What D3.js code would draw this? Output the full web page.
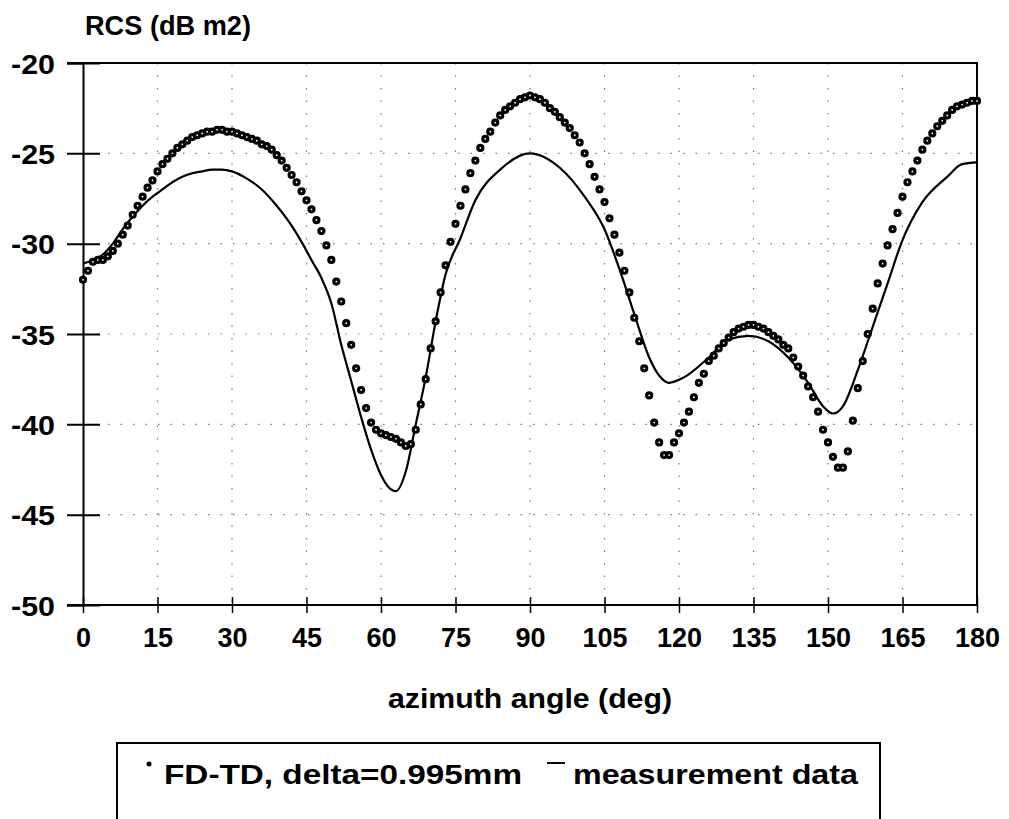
<!DOCTYPE html>
<html>
<head>
<meta charset="utf-8">
<script src="https://cdn.jsdelivr.net/npm/d3@7"></script>
<style>
  body { margin: 0; background: #fff; }
  svg text { font-family: "Liberation Sans", Arial, sans-serif; font-weight: bold; fill: #000; }
</style>
</head>
<body>
<div id="chart"></div>
<script>
// FD-TD computed RCS, one value per degree from 0 to 180
var fdAngles = d3.range(0, 181);
var fdValues = [
  -32.0, -31.5, -31.0, -30.9, -30.9, -30.7, -30.4, -30.0, -29.5, -29.0,
  -28.4, -27.9, -27.4, -26.9, -26.5, -26.0, -25.6, -25.3, -25.0, -24.7,
  -24.5, -24.3, -24.1, -24.0, -23.9, -23.8, -23.8, -23.7, -23.7, -23.8,
  -23.8, -23.9, -24.0, -24.1, -24.2, -24.3, -24.5, -24.6, -24.8, -25.1,
  -25.4, -25.8, -26.2, -26.6, -27.1, -27.6, -28.1, -28.7, -29.3, -30.1,
  -30.9, -32.1, -33.2, -34.4, -35.6, -36.9, -38.1, -39.1, -39.9, -40.3,
  -40.5, -40.6, -40.7, -40.8, -41.0, -41.2, -41.1, -40.3, -38.9, -37.5,
  -35.8, -34.3, -32.7, -31.2, -29.9, -28.9, -27.9, -27.0, -26.1, -25.4,
  -24.7, -24.2, -23.8, -23.3, -22.9, -22.6, -22.4, -22.2, -22.0, -21.9,
  -21.8, -21.9, -22.0, -22.2, -22.5, -22.7, -23.0, -23.3, -23.6, -24.0,
  -24.4, -25.0, -25.6, -26.3, -27.0, -27.7, -28.6, -29.5, -30.5, -31.5,
  -32.7, -34.1, -35.4, -36.9, -38.4, -39.9, -41.0, -41.7, -41.7, -41.0,
  -40.5, -39.9, -39.3, -38.5, -37.7, -37.2, -36.5, -36.2, -35.8, -35.5,
  -35.2, -34.9, -34.7, -34.6, -34.5, -34.5, -34.6, -34.7, -34.9, -35.1,
  -35.3, -35.6, -35.8, -36.3, -36.8, -37.3, -37.9, -38.5, -39.3, -40.3,
  -41.0, -41.8, -42.4, -42.4, -41.5, -39.8, -38.0, -36.5, -35.0, -33.6,
  -32.2, -31.1, -30.1, -29.2, -28.3, -27.4, -26.6, -26.0, -25.4, -24.8,
  -24.3, -23.9, -23.5, -23.2, -22.9, -22.6, -22.4, -22.3, -22.2, -22.1,
  -22.1
];

var measAngles = [0, 2, 4, 6, 8, 10, 12, 14, 16, 18, 20, 22, 24, 26, 28, 30, 33, 36, 39, 42, 44, 46,
  48, 50, 52, 54, 56, 58, 60, 62, 63, 65, 67, 69, 71, 73, 76, 79, 84, 90, 96, 101, 105, 108, 111,
  114, 116, 118, 121, 126, 130, 134, 138, 142, 146, 149, 151, 153, 156, 159, 162, 165, 169, 174, 177, 180];
var measValues = [-31.1, -30.9, -30.6, -30.0, -29.2, -28.5, -27.9, -27.4, -27.0, -26.6, -26.3, -26.1,
  -26.0, -25.9, -25.9, -26.0, -26.4, -27.0, -27.9, -29.0, -29.9, -30.9, -31.9, -33.3, -35.6, -37.6,
  -39.6, -41.4, -42.8, -43.6, -43.7, -42.6, -40.0, -37.4, -34.3, -31.7, -29.7, -27.6, -25.9, -25.0,
  -25.8, -27.4, -29.2, -31.4, -33.9, -36.3, -37.3, -37.7, -37.4, -36.3, -35.3, -35.1, -35.4, -36.3,
  -37.7, -39.0, -39.4, -39.0, -37.0, -34.6, -32.2, -29.8, -27.7, -26.3, -25.6, -25.5];

var xTicks = [0, 15, 30, 45, 60, 75, 90, 105, 120, 135, 150, 165, 180];
var yTicks = [-20, -25, -30, -35, -40, -45, -50];

var legendLabels = ["FD-TD, delta=0.995mm", "measurement data"];

var W = 1009, H = 819;
var mLeft = 83, mRight = 977, mTop = 63, mBottom = 605;

var svg = d3.select("#chart").append("svg")
    .attr("width", W)
    .attr("height", H);

var x = d3.scaleLinear().domain([0, 180]).range([mLeft, mRight]);
var y = d3.scaleLinear().domain([-50, -20]).range([mBottom, mTop]);

// sparse dotted grid
var grid = svg.append("g").attr("class", "grid")
    .attr("stroke", "#777")
    .attr("stroke-width", 1.2)
    .attr("stroke-dasharray", "1.5,11");
grid.selectAll("line.gx")
    .data(xTicks.slice(1, -1))
    .enter().append("line")
    .attr("x1", d => x(d)).attr("x2", d => x(d))
    .attr("y1", mTop).attr("y2", mBottom);
grid.selectAll("line.gy")
    .data(yTicks.slice(1, -1))
    .enter().append("line")
    .attr("x1", mLeft).attr("x2", mRight)
    .attr("y1", d => y(d)).attr("y2", d => y(d));

// frame: top and right sides
svg.append("path")
    .attr("d", "M" + (mLeft - 16) + "," + mTop + "H" + mRight + "V" + mBottom)
    .attr("fill", "none")
    .attr("stroke", "#000")
    .attr("stroke-width", 2);

// labels use a plain hyphen like the original
var fmt = d => String(d);

// y axis, ticks crossing the line
var yAxis = svg.append("g")
    .attr("transform", "translate(" + mLeft + ",0)")
    .call(d3.axisLeft(y).tickValues(yTicks).tickSize(16).tickFormat(fmt));
yAxis.select(".domain").attr("stroke-width", 2);
yAxis.selectAll(".tick line").attr("x2", 17).attr("x1", -16).attr("stroke-width", 2);
yAxis.selectAll(".tick text")
    .attr("x", -28)
    .attr("dy", "0.36em")
    .attr("textLength", 44)
    .attr("lengthAdjust", "spacingAndGlyphs")
    .style("font-size", "28px")
    .style("font-family", "Liberation Sans, Arial, sans-serif")
    .style("font-weight", "bold");

// x axis
var xAxis = svg.append("g")
    .attr("transform", "translate(0," + mBottom + ")")
    .call(d3.axisBottom(x).tickValues(xTicks).tickSize(8).tickFormat(fmt));
xAxis.select(".domain").attr("stroke-width", 2)
    .attr("d", "M" + (mLeft - 16) + ",0H" + mRight);
xAxis.selectAll(".tick line").attr("y1", -8).attr("stroke-width", 1.5);
xAxis.selectAll(".tick text")
    .attr("y", 23)
    .attr("dy", "0.71em")
    .style("font-size", "27px")
    .style("font-family", "Liberation Sans, Arial, sans-serif")
    .style("font-weight", "bold");

// axis titles
svg.append("text")
    .attr("x", 85).attr("y", 35)
    .attr("textLength", 166)
    .attr("lengthAdjust", "spacingAndGlyphs")
    .style("font-size", "27px")
    .text("RCS (dB m2)");
svg.append("text")
    .attr("x", (mLeft + mRight) / 2).attr("y", 708)
    .attr("text-anchor", "middle")
    .attr("textLength", 284)
    .attr("lengthAdjust", "spacingAndGlyphs")
    .style("font-size", "27px")
    .text("azimuth angle (deg)");

// measurement line
var line = d3.line()
    .x(d => x(d[0]))
    .y(d => y(d[1]))
    .curve(d3.curveMonotoneX);
svg.append("path")
    .datum(measAngles.map((a, i) => [a, measValues[i]]))
    .attr("d", line)
    .attr("fill", "none")
    .attr("stroke", "#000")
    .attr("stroke-width", 2.2);

// FD-TD dots: thick rings with a tiny hole
svg.append("g").selectAll("circle")
    .data(fdAngles.map((a, i) => [a, fdValues[i]]))
    .enter().append("circle")
    .attr("cx", d => x(d[0]))
    .attr("cy", d => y(d[1]))
    .attr("r", 2.5)
    .attr("fill", "#fff")
    .attr("stroke", "#000")
    .attr("stroke-width", 3.2);

// legend box (open at the bottom edge of the page)
var lg = svg.append("g").attr("class", "legend");
lg.append("path")
    .attr("d", "M117," + H + "V743H880V" + H)
    .attr("fill", "none")
    .attr("stroke", "#000")
    .attr("stroke-width", 2);
lg.append("circle")
    .attr("cx", 149).attr("cy", 764)
    .attr("r", 2.5)
    .attr("fill", "#000");
lg.append("text")
    .attr("x", 164).attr("y", 784)
    .attr("textLength", 358)
    .attr("lengthAdjust", "spacingAndGlyphs")
    .style("font-size", "27px")
    .text(legendLabels[0]);
lg.append("line")
    .attr("x1", 547).attr("x2", 565)
    .attr("y1", 763).attr("y2", 763)
    .attr("stroke", "#000")
    .attr("stroke-width", 2);
lg.append("text")
    .attr("x", 573).attr("y", 784)
    .attr("textLength", 285)
    .attr("lengthAdjust", "spacingAndGlyphs")
    .style("font-size", "27px")
    .text(legendLabels[1]);
</script>
</body>
</html>
